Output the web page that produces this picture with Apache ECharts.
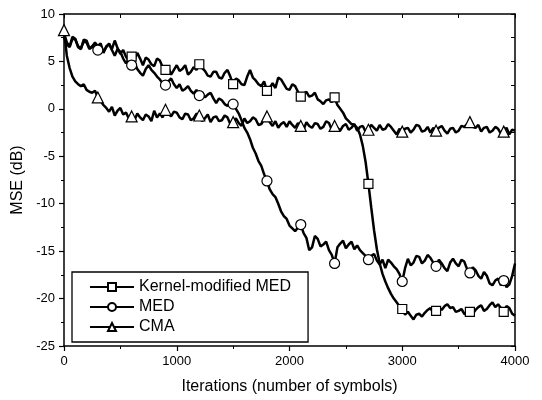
<!DOCTYPE html>
<html>
<head>
<meta charset="utf-8">
<script src="https://cdn.jsdelivr.net/npm/echarts@6/dist/echarts.min.js"></script>
<style>html,body{margin:0;padding:0;background:#fff;}#c{width:542px;height:400px;}</style>
</head>
<body>
<div id="c"></div>
<script>
// Iterations (x grid, every 25 symbols)
const iterations = [
  0,25,50,75,100,125,150,175,200,225,250,275,300,325,350,375,400,425,450,475,
  500,525,550,575,600,625,650,675,700,725,750,775,800,825,850,875,900,925,950,975,
  1000,1025,1050,1075,1100,1125,1150,1175,1200,1225,1250,1275,1300,1325,1350,1375,1400,1425,1450,1475,
  1500,1525,1550,1575,1600,1625,1650,1675,1700,1725,1750,1775,1800,1825,1850,1875,1900,1925,1950,1975,
  2000,2025,2050,2075,2100,2125,2150,2175,2200,2225,2250,2275,2300,2325,2350,2375,2400,2425,2450,2475,
  2500,2525,2550,2575,2600,2625,2650,2675,2700,2725,2750,2775,2800,2825,2850,2875,2900,2925,2950,2975,
  3000,3025,3050,3075,3100,3125,3150,3175,3200,3225,3250,3275,3300,3325,3350,3375,3400,3425,3450,3475,
  3500,3525,3550,3575,3600,3625,3650,3675,3700,3725,3750,3775,3800,3825,3850,3875,3900,3925,3950,3975,
  4000];

const kernelMED = [
  8.0,7.0,6.6,7.6,7.4,6.5,6.3,7.3,7.2,6.4,6.5,7.0,6.6,6.9,5.9,6.6,6.8,6.3,7.2,6.4,
  5.8,6.2,5.5,5.0,5.5,5.2,5.9,5.3,4.6,5.4,5.2,4.7,4.5,5.3,5.1,4.4,4.1,4.4,3.6,4.1,
  4.6,4.0,4.2,4.6,3.6,3.9,4.4,4.1,4.7,4.3,4.0,3.5,3.4,3.9,3.9,3.3,3.2,3.8,4.1,3.4,
  2.6,3.2,3.0,2.6,2.5,3.4,4.1,3.3,3.0,2.6,2.4,2.9,1.9,2.2,2.7,2.2,3.3,3.1,2.6,2.1,
  2.0,2.6,2.4,1.8,1.3,1.6,1.8,1.3,1.4,1.7,1.0,0.8,0.5,0.9,1.0,0.7,1.2,0.4,0.0,-0.4,
  -1.0,-1.3,-1.6,-1.7,-2.0,-2.7,-3.9,-5.6,-7.9,-10.4,-12.8,-14.8,-16.3,-17.4,-18.2,-18.9,-19.5,-20.0,-20.4,-20.8,
  -21.1,-21.7,-21.4,-21.8,-22.2,-21.7,-21.6,-21.9,-21.5,-21.2,-21.0,-21.5,-21.3,-20.9,-21.2,-20.8,-20.6,-21.0,-20.9,-21.4,
  -21.3,-21.1,-21.6,-21.7,-21.4,-21.6,-21.2,-20.9,-20.7,-21.3,-21.1,-20.7,-20.4,-20.9,-20.6,-21.0,-21.4,-20.8,-21.0,-21.6,
  -21.8];

const med = [
  7.5,6.8,6.5,7.4,7.3,6.6,6.4,7.1,7.0,6.3,6.6,6.9,6.2,6.6,6.0,6.5,6.9,6.2,5.6,6.3,
  6.0,5.3,4.8,5.2,4.6,4.9,4.2,3.8,3.5,4.2,4.6,4.1,3.8,3.4,3.1,2.7,2.5,2.9,3.2,2.6,
  2.2,2.6,1.9,2.1,2.4,1.9,1.6,2.0,1.4,1.7,1.2,1.5,1.7,1.1,0.6,1.1,0.9,0.5,0.3,0.7,
  0.5,0.0,-0.5,-1.2,-2.0,-2.5,-3.2,-4.1,-4.7,-5.5,-6.0,-6.9,-7.6,-8.5,-9.0,-9.3,-10.0,-10.8,-11.3,-11.6,
  -12.3,-12.6,-12.9,-12.5,-12.2,-13.1,-13.6,-14.9,-14.6,-13.4,-13.7,-14.5,-14.3,-14.0,-14.9,-15.4,-16.3,-14.6,-14.2,-13.9,
  -14.7,-14.3,-14.0,-14.8,-14.4,-14.9,-15.2,-15.5,-15.9,-15.5,-15.3,-16.0,-16.4,-15.9,-16.8,-15.9,-16.2,-16.6,-16.9,-17.4,
  -18.2,-16.8,-15.8,-16.5,-16.2,-15.5,-15.6,-16.3,-16.0,-15.4,-15.7,-16.2,-16.6,-15.9,-16.3,-16.8,-17.1,-16.2,-15.8,-16.3,
  -16.6,-15.9,-16.1,-16.9,-17.3,-16.7,-17.0,-17.6,-17.9,-17.2,-17.6,-18.4,-18.6,-18.1,-17.9,-18.6,-18.1,-18.8,-18.5,-17.6,
  -16.3];

const cma = [
  8.3,5.6,4.3,3.4,2.9,2.6,2.4,2.6,2.0,1.8,1.7,1.9,1.2,0.8,0.4,0.1,-0.3,0.2,-0.7,-0.2,
  0.1,-0.6,-0.4,-1.0,-0.8,-1.2,-0.5,-0.9,-1.2,-0.6,-0.8,-1.3,-0.2,-0.9,-0.5,-0.9,-0.1,-0.5,-0.8,-0.3,
  -0.4,-0.9,-1.1,-0.5,-0.6,-1.2,-1.0,-0.5,-0.7,-1.3,-1.0,-0.6,-1.4,-0.9,-0.8,-1.3,-1.2,-0.7,-0.9,-1.6,
  -1.4,-1.0,-1.5,-1.8,-1.0,-1.5,-1.3,-0.9,-1.1,-1.7,-1.6,-1.1,-0.8,-1.4,-1.8,-1.3,-2.0,-1.6,-1.4,-1.9,
  -1.3,-1.7,-2.0,-1.5,-1.8,-2.2,-1.4,-1.8,-2.0,-1.5,-1.6,-2.1,-1.9,-1.3,-1.5,-2.2,-1.8,-2.0,-2.3,-1.8,
  -1.6,-2.2,-2.0,-1.6,-2.3,-1.9,-1.8,-2.4,-2.2,-1.7,-2.0,-2.3,-1.7,-2.2,-2.1,-1.6,-1.9,-2.3,-2.7,-2.1,
  -2.4,-2.1,-2.0,-2.5,-2.2,-1.7,-1.8,-2.4,-2.3,-1.9,-2.5,-2.0,-2.3,-2.0,-1.8,-2.3,-2.6,-2.1,-2.0,-2.5,
  -2.3,-1.8,-1.9,-1.6,-1.4,-1.9,-2.0,-1.7,-2.4,-2.0,-1.9,-2.5,-2.3,-1.9,-2.1,-2.6,-2.4,-2.0,-2.7,-2.2,
  -2.3];

// Iterations where the markers appear
const kernelMarkers = [600,900,1200,1500,1800,2100,2400,2700,3000,3300,3600,3900];
const medMarkers = [300,600,900,1200,1500,1800,2100,2400,2700,3000,3300,3600,3900];
const cmaMarkers = [0,300,600,900,1200,1500,1800,2100,2400,2700,3000,3300,3600,3900];

const seriesNames = ['Kernel-modified MED','MED','CMA'];
const xTicks = [0,1000,2000,3000,4000];
const yTicks = [-25,-20,-15,-10,-5,0,5,10];

function build(values, markers) {
  return iterations.map((x, i) => ({
    value: [x, values[i]],
    symbol: markers.indexOf(x) >= 0 ? undefined : 'none'
  }));
}

const FONT = '"Liberation Sans", Arial, sans-serif';
const chart = echarts.init(document.getElementById('c'), null, {renderer: 'canvas'});

function lineSeries(name, values, markers, symbol, size) {
  return {
    name: name,
    type: 'line',
    data: build(values, markers),
    symbol: symbol,
    symbolSize: size,
    showSymbol: true,
    showAllSymbol: true,
    animation: false,
    lineStyle: {color: '#000', width: 2.5},
    itemStyle: {color: '#fff', borderColor: '#000', borderWidth: 1.2},
    emphasis: {disabled: true}
  };
}

chart.setOption({
  backgroundColor: '#fff',
  animation: false,
  grid: {left: 64, right: 27, top: 14, bottom: 51},
  legend: {
    orient: 'vertical',
    left: 72, top: 272,
    padding: [5, 17, 5, 17],
    itemWidth: 44, itemHeight: 10, itemGap: 0,
    borderColor: '#000', borderWidth: 1.3,
    textStyle: {fontFamily: FONT, fontSize: 16, color: '#000', lineHeight: 20},
    data: seriesNames
  },
  xAxis: [{
    type: 'value', min: 0, max: 4000, interval: 1000,
    name: 'Iterations (number of symbols)', nameLocation: 'middle', nameGap: 33,
    nameTextStyle: {fontFamily: FONT, fontSize: 16, color: '#000'},
    axisLine: {show: true, onZero: false, lineStyle: {color: '#000', width: 1.5}},
    axisTick: {show: true, inside: false, length: 5, lineStyle: {color: '#000', width: 1.2}},
    minorTick: {show: true, splitNumber: 2, length: 3, lineStyle: {color: '#000', width: 1}},
    axisLabel: {fontFamily: FONT, fontSize: 13, color: '#000', margin: 9,
      formatter: v => xTicks.indexOf(v) >= 0 ? String(v) : ''},
    splitLine: {show: false}
  }, {
    type: 'value', min: 0, max: 4000, interval: 500, position: 'top',
    axisLine: {show: true, onZero: false, lineStyle: {color: '#000', width: 1.5}},
    axisTick: {show: true, inside: true, length: 4, lineStyle: {color: '#000', width: 1}},
    axisLabel: {show: false}, splitLine: {show: false}
  }],
  yAxis: [{
    type: 'value', min: -25, max: 10, interval: 5,
    name: 'MSE (dB)', nameLocation: 'middle', nameGap: 33, nameRotate: 90,
    nameTextStyle: {fontFamily: FONT, fontSize: 16, color: '#000'},
    axisLine: {show: true, onZero: false, lineStyle: {color: '#000', width: 1.5}},
    axisTick: {show: true, inside: false, length: 5, lineStyle: {color: '#000', width: 1.2}},
    minorTick: {show: true, splitNumber: 2, length: 3, lineStyle: {color: '#000', width: 1}},
    axisLabel: {fontFamily: FONT, fontSize: 13, color: '#000', margin: 9,
      formatter: v => yTicks.indexOf(v) >= 0 ? String(v) : ''},
    splitLine: {show: false}
  }, {
    type: 'value', min: -25, max: 10, interval: 2.5, position: 'right',
    axisLine: {show: true, onZero: false, lineStyle: {color: '#000', width: 1.5}},
    axisTick: {show: true, inside: true, length: 4, lineStyle: {color: '#000', width: 1}},
    axisLabel: {show: false}, splitLine: {show: false}
  }],
  series: [
    lineSeries(seriesNames[0], kernelMED, kernelMarkers, 'rect', 9),
    lineSeries(seriesNames[1], med, medMarkers, 'circle', 10),
    lineSeries(seriesNames[2], cma, cmaMarkers, 'triangle', 11)
  ]
});
</script>
</body>
</html>
